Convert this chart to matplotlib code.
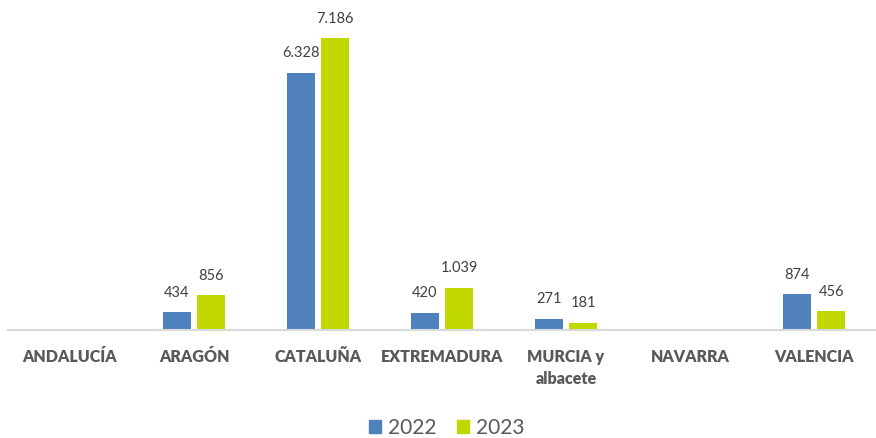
import numpy as np
import matplotlib.pyplot as plt
from matplotlib.patches import Patch

regions = ["ANDALUCÍA", "ARAGÓN", "CATALUÑA", "EXTREMADURA", "MURCIA y\nalbacete", "NAVARRA", "VALENCIA"]
v2022 = [0, 434, 6328, 420, 271, 0, 874]
v2023 = [0, 856, 7186, 1039, 181, 0, 456]
series = ["2022", "2023"]
colors = ["#4F81BD", "#C0D800"]

plt.rcParams['font.family'] = ['Lato', 'DejaVu Sans']

fig = plt.figure(figsize=(8.76, 4.38), dpi=100)
ax = fig.add_axes([8 / 876, 1 - 330 / 438, 868 / 876, 325 / 438])

x = np.arange(len(regions))
w = 0.225
for vals, off, col in zip([v2022, v2023], [-0.14, 0.14], colors):
    bars = ax.bar(x + off, vals, width=w, color=col)
    for b, v in zip(bars, vals):
        if v == 0:
            continue
        lab = f"{v:,}".replace(",", ".")
        ax.annotate(lab, (b.get_x() + b.get_width() / 2, v), xytext=(0, 9),
                    textcoords="offset points", ha="center", va="bottom",
                    fontsize=10.5, color="#404040")

ax.set_xlim(-0.5, 6.5)
ax.set_ylim(0, 8000)
for s in ["top", "right", "left"]:
    ax.spines[s].set_visible(False)
ax.spines["bottom"].set_color("#d9d9d9")
ax.spines["bottom"].set_linewidth(1.5)
ax.set_yticks([])
ax.set_xticks(x)
ax.set_xticklabels(regions, fontsize=11.5, fontweight="heavy", color="#595959",
                   va="top", linespacing=1.45)
ax.tick_params(axis="x", length=0, pad=14)

handles = [Patch(color=c, label=s) for c, s in zip(colors, series)]
fig.legend(handles=handles, loc="center", bbox_to_anchor=(447 / 876, 1 - 428 / 438), ncol=2,
           frameon=False, fontsize=15, handlelength=0.55, handleheight=0.55,
           handletextpad=0.35, columnspacing=1.0, labelcolor="#595959")

fig.savefig("out.png", dpi=100)
